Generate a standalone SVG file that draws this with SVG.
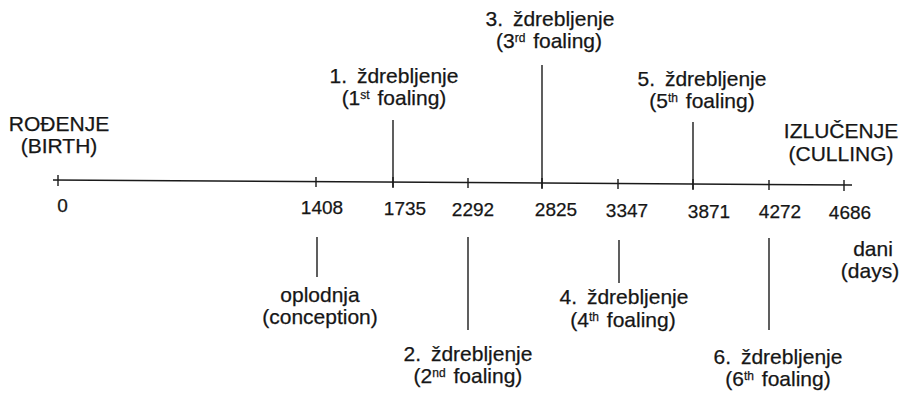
<svg xmlns="http://www.w3.org/2000/svg" width="903" height="394" viewBox="0 0 903 394">
<style>
text{font-family:"Liberation Sans",Arial,sans-serif;fill:#161616;stroke:#161616;stroke-width:0.25}
.lbl{font-size:21px;text-anchor:middle}
.num{font-size:19px;text-anchor:middle}
.sup{font-size:12px}
.ln{stroke:#1a1a1a;stroke-width:1.4;fill:none}
.ax{stroke:#1a1a1a;stroke-width:1.5;fill:none}
</style>
<rect width="903" height="394" fill="#ffffff"/>
<g id="axis">
<line class="ax" x1="53" y1="180" x2="852" y2="185"/>
<path class="ln" d="M58 175V186M316 177V187M393 177V188M468 178V188M542 178V189M618 179V189M693 179V190M769 180V190M844 180V191"/>
</g>
<g id="axis-numbers">
<text class="num" x="62.5" y="212">0</text>
<text class="num" x="322" y="214.3">1408</text>
<text class="num" x="405" y="215">1735</text>
<text class="num" x="473" y="215.6">2292</text>
<text class="num" x="556" y="216.4">2825</text>
<text class="num" x="627" y="217">3347</text>
<text class="num" x="709" y="217.7">3871</text>
<text class="num" x="780" y="218.4">4272</text>
<text class="num" x="850" y="219">4686</text>
</g>
<g id="connectors">
<line class="ln" x1="393" y1="120" x2="393" y2="187"/>
<line class="ln" x1="542" y1="65" x2="542" y2="188"/>
<line class="ln" x1="693" y1="122" x2="693" y2="189"/>
<line class="ln" x1="317" y1="237" x2="317" y2="277"/>
<line class="ln" x1="468" y1="237" x2="468" y2="330"/>
<line class="ln" x1="619" y1="240" x2="619" y2="283"/>
<line class="ln" x1="769" y1="238" x2="769" y2="330"/>
</g>
<g id="birth">
<text class="lbl" x="59" y="131">ROĐENJE</text>
<text class="lbl" x="59" y="153">(BIRTH)</text>
</g>
<g id="culling">
<text class="lbl" x="841" y="138">IZLUČENJE</text>
<text class="lbl" x="841" y="161">(CULLING)</text>
</g>
<g id="days">
<text class="lbl" x="873" y="256">dani</text>
<text class="lbl" x="870" y="278">(days)</text>
</g>
<g id="conception">
<text class="lbl" x="320" y="302">oplodnja</text>
<text class="lbl" x="320" y="324">(conception)</text>
</g>
<g id="foaling1">
<text class="lbl" x="394" y="83">1.<tspan dx="4"> ždrebljenje</tspan></text>
<text class="lbl" x="394" y="105">(1<tspan class="sup" dy="-6">st</tspan><tspan dy="6" dx="2"> foaling)</tspan></text>
</g>
<g id="foaling2">
<text class="lbl" x="468" y="361">2.<tspan dx="4"> ždrebljenje</tspan></text>
<text class="lbl" x="468" y="383">(2<tspan class="sup" dy="-6">nd</tspan><tspan dy="6" dx="2"> foaling)</tspan></text>
</g>
<g id="foaling3">
<text class="lbl" x="550" y="26">3.<tspan dx="4"> ždrebljenje</tspan></text>
<text class="lbl" x="549" y="48">(3<tspan class="sup" dy="-6">rd</tspan><tspan dy="6" dx="2"> foaling)</tspan></text>
</g>
<g id="foaling4">
<text class="lbl" x="624" y="304">4.<tspan dx="4"> ždrebljenje</tspan></text>
<text class="lbl" x="623" y="327">(4<tspan class="sup" dy="-6">th</tspan><tspan dy="6" dx="2"> foaling)</tspan></text>
</g>
<g id="foaling5">
<text class="lbl" x="702" y="86">5.<tspan dx="4"> ždrebljenje</tspan></text>
<text class="lbl" x="702" y="108">(5<tspan class="sup" dy="-6">th</tspan><tspan dy="6" dx="2"> foaling)</tspan></text>
</g>
<g id="foaling6">
<text class="lbl" x="778" y="364">6.<tspan dx="4"> ždrebljenje</tspan></text>
<text class="lbl" x="778" y="386">(6<tspan class="sup" dy="-6">th</tspan><tspan dy="6" dx="2"> foaling)</tspan></text>
</g>
</svg>
